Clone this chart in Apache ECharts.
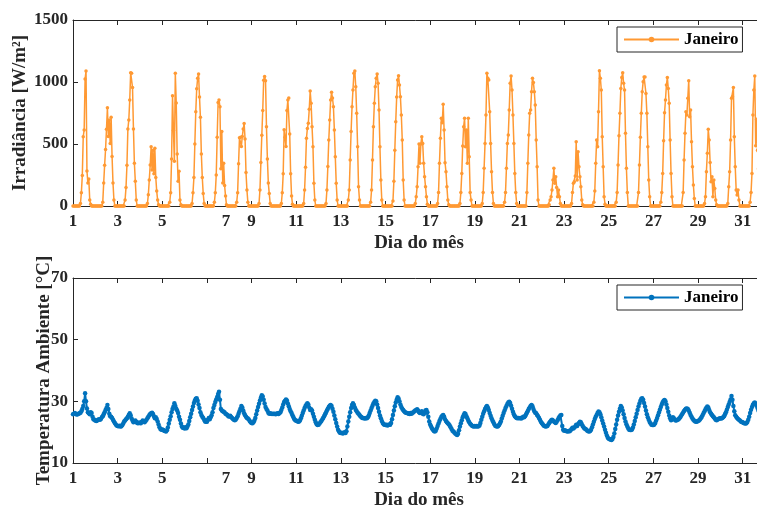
<!DOCTYPE html>
<html>
<head>
<meta charset="UTF-8">
<title>Irradiância e Temperatura - Janeiro</title>
<script type="text/javascript" src="https://cdn.jsdelivr.net/npm/echarts@6/dist/echarts.min.js"></script>
<style>
	html,body{margin:0;padding:0;background:#fff;}
	#main{width:757px;height:508px;}
</style>
</head>
<body>
<div id="main"></div>
<script type="text/javascript">
	// ticks do eixo x (dia do mês) e dos eixos y
	var diasTicks = [1,3,5,7,9,11,13,15,17,19,21,23,25,27,29,31];
	var irrTicks = [0,500,1000,1500];
	var tempTicks = [10,30,50,70];

	// irradiância horária [W/m²], uma linha por dia, horas 0..23
	var irradiancia = [
		[0,0,0,0,0,0,0,0, 20,107,245,559,613,1024,1089,282,185,218,48,15,0, 0,0,0],
		[0,0,0,0,0,0,0,0, 30,185,328,455,618,793,560,694,505,716,400,185,48, 0,0,0],
		[0,0,0,0,0,0,0,0, 48,150,328,620,694,855,1075,1070,955,620,345,200,48, 0,0,0],
		[0,0,0,0,0,0,0,0, 20,90,210,330,478,290,450,260,465,230,120,48,10, 0,0,0],
		[0,0,0,0,0,0,0,0, 30,107,380,890,610,360,1070,830,420,200,280,48,10, 0,0,0],
		[0,0,0,0,0,0,0,0, 20,107,230,500,760,945,1030,1065,880,716,420,230,100, 20,0,0],
		[0,0,0,0,0,0,0,0, 30,107,250,555,835,855,800,300,600,185,345,165,80, 10,0,0],
		[0,0,0,0,0,0,0,0, 30,107,340,550,555,480,560,620,665,540,270,130,30, 0,0,0],
		[0,0,0,0,0,0,0,0, 20,130,350,570,770,1015,1045,1010,640,380,185,100,20, 0,0,0],
		[0,0,0,0,0,0,0,0, 20,107,260,615,555,480,770,855,870,580,260,80,15, 0,0,0],
		[0,0,0,0,0,0,0,0, 20,129,312,546,626,667,780,927,828,640,478,183,48, 0,0,0],
		[0,0,0,0,0,0,0,0, 20,129,318,532,694,855,917,870,801,613,398,183,48, 0,0,0],
		[0,0,0,0,0,0,0,0, 48,129,371,600,801,935,1070,1089,962,747,478,156,48, 0,0,0],
		[0,0,0,0,0,0,0,0, 30,129,371,640,828,962,1030,1065,989,774,478,210,48, 0,0,0],
		[0,0,0,0,0,0,0,0, 40,200,450,680,880,1016,1051,976,882,734,532,210,48, 0,0,0],
		[0,0,0,0,0,0,0,0, 20,75,156,317,500,344,500,559,505,344,236,156,75, 15,0,0],
		[0,0,0,0,0,0,0,0, 20,108,344,546,707,672,820,613,349,277,156,48,10, 0,0,0],
		[0,0,0,0,0,0,0,0, 20,108,263,484,640,707,478,613,344,707,398,108,48, 0,0,0],
		[0,0,0,0,0,0,0,0, 20,108,304,505,734,1070,1030,1016,761,505,277,108,21, 0,0,0],
		[0,0,0,0,0,0,0,0, 30,108,304,505,573,774,989,1048,935,734,505,263,108, 20,0,0],
		[0,0,0,0,0,0,0,0, 108,344,573,747,774,922,1030,995,922,815,532,317,48, 0,0,0],
		[0,0,0,0,0,0,0,0, 10,48,75,129,210,304,183,236,150,75,129,75,20, 0,0,0],
		[0,0,0,0,0,0,0,0, 20,108,183,196,242,519,210,438,317,236,156,48,10, 0,0,0],
		[0,0,0,0,0,0,0,0, 30,121,344,532,478,761,1091,1030,935,559,317,75,15, 0,0,0],
		[0,0,0,0,0,0,0,0, 30,108,331,567,747,948,1037,1075,989,935,586,304,108, 0,0,0],
		[0,0,0,0,0,0,0,0, 108,331,555,747,922,1003,1040,1040,908,747,478,210,75, 0,0,0],
		[0,0,0,0,0,0,0,0, 30,108,263,527,753,855,976,1037,948,828,532,263,75, 0,0,0],
		[0,0,0,0,0,0,0,0, 108,371,586,761,734,868,1011,720,774,519,317,169,61, 0,0,0],
		[0,0,0,0,0,0,0, 20,75,277,425,618,532,350,196,236,75,210,142,48,10, 0,0,0],
		[0,0,0,0,0,0,0,0, 20,156,277,532,868,882,955,559,317,129,88,129,48, 0,0,0],
		[0,0,0,0,0,0,0,0, 30,108,263,734,935,1048,486,700,450,300,180,80,20, 0,0,0]
	];

	// temperatura ambiente horária [°C], uma linha por dia, horas 0..23
	var temperatura = [
		[25.8,26,26.2,25.9,25.7,25.8,26,26.1,26.3,26.8,27.5,28.5,30,32.6,30,27.7,26.5,26.1,25.8,26.5,26.2,25,24.2,24],
		[23.8,23.6,23.8,24.0,24.2,24.0,24.3,24.8,25.2,25.8,26.5,27.2,27.8,28.8,27.5,26.0,25.2,25.0,24.6,24.0,23.5,23.0,22.5,22.2],
		[22.0,21.9,22.1,21.8,21.9,22.3,22.8,23.5,23.8,24.2,24.5,25.0,25.6,26.1,25.5,24.4,23.8,23.2,23.5,23.8,23.4,23.0,22.9,23.1],
		[23.0,22.9,23.4,23.8,23.5,23.2,23.6,24.0,24.5,25.0,25.5,25.9,26.1,26.3,25.9,25.2,24.5,24.8,24.3,23.5,22.5,21.6,21.0,20.8],
		[20.9,20.7,20.5,20.4,20.2,20.6,21.5,22.8,24.0,25.2,26.5,27.5,28.3,29.4,28.5,27.6,27.0,26.2,25.0,24.0,22.8,21.8,21.4,21.5],
		[21.2,21.6,21.3,21.8,22.5,23.6,24.8,26.0,27.2,28.3,29.5,30.3,30.8,31.0,30.2,29.0,27.8,26.5,25.6,25.0,24.6,24.0,23.5,23.4],
		[23.4,24.0,24.6,24.2,24.8,25.5,26.5,27.8,28.8,29.8,30.6,31.4,32.4,33.1,30.5,27.5,27.0,26.8,26.6,26.4,26.0,25.8,25.6,25.2],
		[25.1,25.3,24.9,24.6,24.3,24.0,23.9,24.1,24.6,25.2,26.0,26.8,27.6,28.5,28.0,27.0,26.1,25.5,25.0,24.6,24.4,24.1,23.6,23.2],
		[23.0,22.9,23.2,23.8,24.6,25.8,27.0,28.2,29.2,30.3,31.2,32.0,31.6,30.5,29.3,28.2,27.5,27.0,26.3,26.0,26.1,26.0,25.9,26.0],
		[25.9,26.0,25.8,26.0,26.1,25.9,26.2,26.5,27.2,28.0,29.0,29.8,30.2,30.6,30.3,29.3,28.4,27.5,26.8,26.2,25.5,24.8,24.2,23.9],
		[23.7,23.6,23.4,23.5,23.8,24.5,25.3,26.2,27.0,27.8,28.5,29.0,29.4,29.0,28.0,27.2,27.4,27.0,26.0,25.0,24.0,23.2,22.6,22.3],
		[22.4,22.8,23.2,23.6,24.1,24.6,25.2,25.8,26.4,27.0,27.6,28.2,28.6,28.8,28.5,27.6,26.6,25.4,24.2,23.0,21.8,20.8,20.2,19.8],
		[19.7,19.8,19.6,19.7,20.0,19.7,20.3,21.8,23.5,25.0,26.5,27.8,28.8,29.4,28.8,28.0,27.3,26.8,26.3,26.0,25.6,25.2,24.9,24.6],
		[24.6,24.5,24.4,24.6,24.5,24.8,25.4,26.2,27.0,27.8,28.6,29.3,29.8,30.2,30.0,29.0,27.8,26.6,25.4,24.5,23.6,23.0,22.6,22.4],
		[22.3,22.4,22.2,22.3,22.5,22.4,23.0,24.2,25.6,27.0,28.4,29.6,30.5,31.3,30.9,30.0,29.0,28.2,27.6,27.2,26.8,26.5,26.3,26.2],
		[26.1,26.0,25.9,26.2,26.0,26.3,26.5,26.8,27.0,27.2,27.4,27.0,26.5,26.2,26.4,26.8,26.0,25.8,26.4,27.0,27.2,26.5,25.0,23.5],
		[22.5,21.8,21.2,20.8,20.4,20.2,20.5,21.2,22.0,22.8,23.6,24.3,24.9,25.3,25.6,25.0,24.2,23.6,23.2,22.9,22.6,22.2,21.6,21.0],
		[20.5,20.2,19.9,19.6,19.3,19.1,19.5,20.6,21.8,22.9,23.9,24.8,25.5,26.1,25.9,25.2,24.5,23.8,23.2,22.7,22.4,22.1,21.9,21.8],
		[22.0,21.8,22.0,21.8,21.9,22.2,23.0,24.0,25.0,26.0,26.8,27.5,28.1,28.5,28.0,27.2,26.2,25.3,24.5,23.8,23.2,22.6,22.1,21.9],
		[21.8,21.9,22.3,22.8,23.5,24.4,25.3,26.2,27.0,27.8,28.5,29.1,29.6,29.9,29.5,28.6,27.6,26.6,25.8,25.2,24.8,24.6,24.5,24.6],
		[24.5,24.6,24.4,24.7,25.0,24.8,25.2,25.7,26.3,26.9,27.5,28.0,28.5,28.8,28.4,27.5,26.8,26.3,26.1,25.6,25.2,24.6,24.0,23.4],
		[23.0,22.6,22.2,22.0,21.8,21.9,22.0,22.5,23.0,23.4,23.8,24.0,23.8,23.5,23.2,23.0,23.4,23.9,24.5,25.0,25.4,25.6,22.0,20.8],
		[20.5,20.6,20.4,20.3,20.2,20.4,20.3,20.6,21.0,21.4,21.2,21.5,21.8,22.4,22.0,22.6,23.0,23.4,23.2,22.6,22.0,21.5,21.2,21.0],
		[20.8,20.5,20.3,20.2,20.4,20.8,21.6,22.5,23.4,24.3,25.0,25.6,26.2,26.7,26.5,25.8,24.8,23.8,22.8,21.8,20.8,19.8,18.9,18.2],
		[17.9,17.7,17.6,17.5,17.8,18.4,19.6,21.0,22.5,24.0,25.4,26.6,27.6,28.5,28.0,27.0,25.8,24.6,23.5,22.6,21.8,21.2,20.8,20.7],
		[20.7,20.9,21.5,22.5,23.6,24.8,26.0,27.2,28.3,29.3,30.2,30.8,31.0,30.5,29.5,28.3,27.0,25.8,24.8,24.0,23.3,22.8,22.4,22.3],
		[22.3,22.5,23.0,23.8,24.6,25.5,26.4,27.3,28.2,29.0,29.7,30.2,30.4,30.0,29.0,27.8,26.6,25.4,24.5,23.9,24.2,24.8,24.5,24.0],
		[23.8,23.9,24.0,24.2,24.5,24.9,25.4,25.9,26.4,26.9,27.3,27.6,27.7,27.5,27.0,26.3,25.6,25.0,24.4,24.0,23.7,23.5,23.4,23.5],
		[23.6,23.8,24.1,24.5,25.0,25.6,26.2,26.8,27.4,27.9,28.3,28.0,27.2,26.5,26.0,25.6,25.2,24.8,24.4,24.0,23.9,24.1,24.3,24.4],
		[24.5,24.4,24.6,24.8,25.2,25.8,26.5,27.3,28.2,29.0,29.8,30.6,31.7,30.5,28.5,26.8,25.5,25.0,24.6,24.3,24.0,23.8,23.5,23.3],
		[23.2,23.0,22.9,22.8,22.9,23.3,24.0,25.0,26.2,27.3,28.2,28.9,29.4,29.6,29.3,28.6,27.8,27.0,26.3,25.7,25.2,24.8,24.5,24.3]
	];

	// monta pares [dia, valor] a partir das linhas horárias
	function serie(tab){
		var out = [];
		for (var d = 0; d < tab.length; d++) {
			for (var h = 0; h < tab[d].length; h++) {
				out.push([1 + d + h / 24, tab[d][h]]);
			}
		}
		return out;
	}

	var fonte = 'Liberation Serif, Times New Roman, serif';
	var cinza = '#262626';

	function eixoX(grid, topo){
		return {
			gridIndex: grid, type: 'value', min: 1, max: 32, interval: 2,
			position: topo ? 'top' : 'bottom',
			name: topo ? '' : 'Dia do mês', nameLocation: 'middle', nameGap: 28, nameMoveOverlap: false,
			nameTextStyle: {fontFamily: fonte, fontWeight: 'bold', fontSize: 19, color: cinza},
			axisLine: {show: true, onZero: false, lineStyle: {color: cinza, width: 1}},
			axisTick: {show: true, inside: true, length: 5, lineStyle: {color: cinza}},
			splitLine: {show: false},
			axisLabel: {
				show: !topo, margin: 7, fontFamily: fonte, fontWeight: 'bold', fontSize: 17, color: cinza,
				formatter: function (v) {
					if (diasTicks.indexOf(v) < 0) return '';
					if (v === 7) return '{s|7}';
					return String(v);
				},
				rich: {s: {padding: [0, 0, 0, 38], fontFamily: fonte, fontWeight: 'bold', fontSize: 17, color: cinza}}
			}
		};
	}

	function eixoY(grid, nome, ticks, gap){
		return {
			gridIndex: grid, type: 'value',
			min: ticks[0], max: ticks[ticks.length - 1], interval: ticks[1] - ticks[0],
			name: nome, nameLocation: 'middle', nameGap: gap, nameMoveOverlap: false,
			nameTextStyle: {fontFamily: fonte, fontWeight: 'bold', fontSize: 19, color: cinza},
			axisLine: {show: true, lineStyle: {color: cinza, width: 1}},
			axisTick: {show: true, inside: true, length: 5, lineStyle: {color: cinza}},
			splitLine: {show: false},
			axisLabel: {
				margin: 5, fontFamily: fonte, fontWeight: 'bold', fontSize: 17, color: cinza,
				formatter: function (v) { return String(v); }
			}
		};
	}

	function legenda(topo, nome){
		return {
			data: [nome], left: 617, top: topo, itemWidth: 55, itemHeight: 7, itemGap: 5,
			padding: [4, 4, 4, 6], borderColor: cinza, borderWidth: 1, backgroundColor: '#fff',
			formatter: function () { return 'Janeiro'; },
			textStyle: {fontFamily: fonte, fontWeight: 'bold', fontSize: 17, color: '#000'},
			selectedMode: false
		};
	}

	var myChart = echarts.init(document.getElementById('main'), null, {renderer: 'canvas'});
	var option = {
		animation: false,
		backgroundColor: '#fff',
		grid: [
			{left: 73, top: 20, width: 692, height: 186, outerBoundsMode: 'none', containLabel: false},
			{left: 73, top: 278, width: 692, height: 185, outerBoundsMode: 'none', containLabel: false}
		],
		xAxis: [eixoX(0, false), eixoX(0, true), eixoX(1, false), eixoX(1, true)],
		yAxis: [eixoY(0, 'Irradiância [W/m²]', irrTicks, 43), eixoY(1, 'Temperatura Ambiente [°C]', tempTicks, 19)],
		legend: [legenda(27, 'irr'), legenda(285, 'temp')],
		series: [
			{
				name: 'irr', type: 'line', xAxisIndex: 0, yAxisIndex: 0,
				data: serie(irradiancia),
				symbol: 'circle', symbolSize: 3.5, showAllSymbol: true,
				lineStyle: {width: 1.5, color: '#FF9933'},
				itemStyle: {color: '#FF9933'}
			},
			{
				name: 'temp', type: 'line', xAxisIndex: 2, yAxisIndex: 1,
				data: serie(temperatura),
				symbol: 'circle', symbolSize: 4.5, showAllSymbol: true,
				lineStyle: {width: 2, color: '#0072BD'},
				itemStyle: {color: '#0072BD'}
			}
		]
	};
	myChart.setOption(option);
</script>
</body>
</html>
